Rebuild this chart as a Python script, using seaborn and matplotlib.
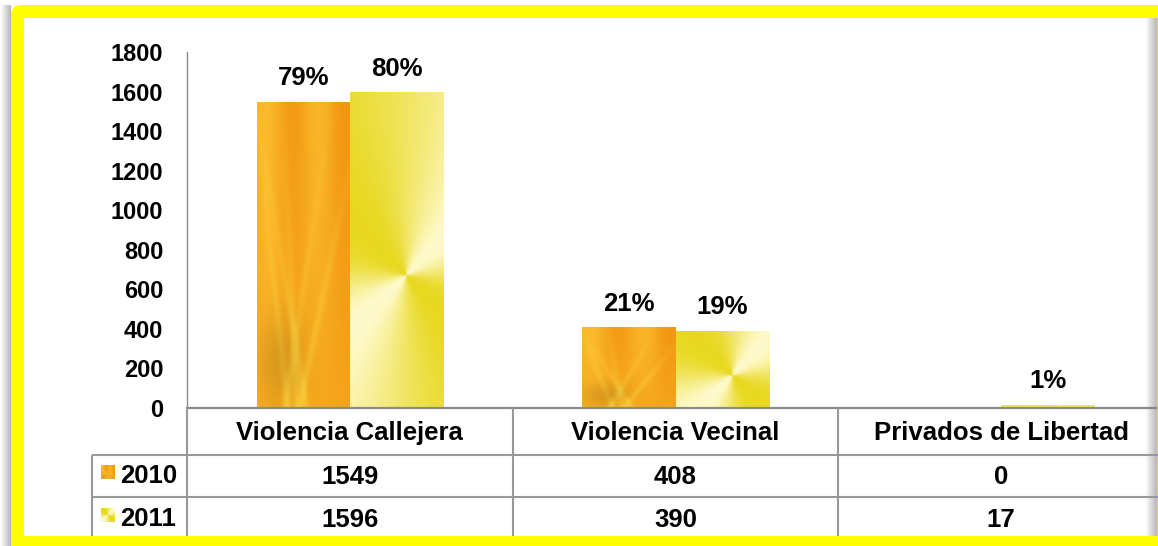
import matplotlib
matplotlib.use('Agg')
import matplotlib.pyplot as plt
import numpy as np
import pandas as pd
import seaborn as sns
from matplotlib.patches import Rectangle, FancyBboxPatch
from matplotlib.transforms import blended_transform_factory

categorias = ['Violencia Callejera', 'Violencia Vecinal', 'Privados de Libertad']
anios = ['2010', '2011']
valores_2010 = [1549, 408, 0]
valores_2011 = [1596, 390, 17]
pct_2010 = [79, 21, 0]
pct_2011 = [80, 19, 1]
y_ticks = [0, 200, 400, 600, 800, 1000, 1200, 1400, 1600, 1800]

W, H = 1158, 546


def textura_trigo(h, w):
    # orange "wheat" fill, roughly like the picture used in the original
    yy, xx = np.mgrid[0:1:h * 1j, 0:1:w * 1j]
    claro = np.array([1.0, 0.80, 0.22])
    oscuro = np.array([0.94, 0.56, 0.04])
    t = 0.35 + 0.25 * np.sin(xx * 11 + 0.6) * (1 - yy) + 0.15 * (1 - xx)
    for x0, inc in [(0.15, 0.35), (0.35, 0.15), (0.55, -0.5), (0.8, -0.7), (0.25, 0.55)]:
        t += 0.35 * np.exp(-((xx - x0 - inc * (yy - 0.5)) / 0.04) ** 2) * yy
    img = oscuro + (claro - oscuro) * np.clip(t, 0, 1)[..., None]
    mancha = np.exp(-(((xx - 0.25) / 0.25) ** 2 + ((yy - 0.85) / 0.15) ** 2))
    img = img * (1 - 0.12 * mancha[..., None])
    return np.clip(img, 0, 1)


def textura_conica(h, w, cx=0.6, cy=0.58):
    yy, xx = np.mgrid[0:1:h * 1j, 0:1:w * 1j]
    ang = np.arctan2(-(yy - cy) * h, (xx - cx) * w)
    t = ((np.cos(2 * (ang - np.pi / 4)) + 1) / 2) ** 1.4
    palido = np.array([1.0, 0.98, 0.80])
    amarillo = np.array([0.91, 0.85, 0.13])
    return amarillo + (palido - amarillo) * t[..., None]


df = pd.DataFrame({
    'categoria': categorias * 2,
    'anio': [anios[0]] * 3 + [anios[1]] * 3,
    'valor': valores_2010 + valores_2011,
})

sns.set_style('white')
plt.rcParams['font.family'] = ['Liberation Sans', 'DejaVu Sans']
plt.rcParams['font.weight'] = 'bold'
plt.rcParams['text.color'] = 'black'
plt.rcParams['ytick.color'] = 'black'

fig = plt.figure(figsize=(W / 100, H / 100), dpi=100)
fig.patch.set_facecolor('white')

# background frame (yellow rounded border)
bg = fig.add_axes([0, 0, 1, 1], zorder=0)
bg.set_xlim(0, W)
bg.set_ylim(H, 0)
bg.axis('off')
bg.add_patch(FancyBboxPatch((11, 5), 1300, 600, boxstyle='round,pad=0,rounding_size=10',
                            facecolor='#ffff00', edgecolor='none'))
bg.add_patch(Rectangle((24, 18), 1300, 518, facecolor='white', edgecolor='none'))
# soft shadows
sombra = np.zeros((1, 12, 4))
sombra[..., :3] = 0.45
sombra[..., 3] = np.linspace(0, 0.5, 12)
bg.imshow(sombra, extent=[0, 11, H, 5], aspect='auto')
bg.imshow(np.transpose(sombra[:, ::-1], (1, 0, 2)), extent=[24, W, 27, 18], aspect='auto')

ax_left = 187 / W
ax_w = 977 / W
ax_bottom = 1 - 408 / H
ax_h = 356 / H
ax = fig.add_axes([ax_left, ax_bottom, ax_w, ax_h], zorder=1)
ax.patch.set_alpha(0)

sns.barplot(data=df, x='categoria', y='valor', hue='anio', hue_order=anios,
            order=categorias, palette=['#f09a10', '#ece030'], width=0.572,
            linewidth=0, legend=False, ax=ax)

ax.set_xlim(-0.5, 2.5)
ax.set_ylim(0, 1800)
ax.set_yticks(y_ticks)
ax.set_xticks([])
ax.set_xlabel('')
ax.set_ylabel('')
ax.tick_params(axis='y', length=0, pad=17, labelsize=17, labelcolor='black')
for lab in ax.get_yticklabels():
    lab.set_fontweight('bold')
for s in ['top', 'right']:
    ax.spines[s].set_visible(False)
ax.spines['left'].set_color('#8a8a8a')
ax.spines['left'].set_linewidth(1.0)
ax.spines['bottom'].set_color('#8a8a8a')
ax.spines['bottom'].set_linewidth(1.6)

# texture fill of each bar, clipped to the bar
n = len(categorias)
for i, bar in enumerate(ax.patches):
    if bar.get_height() <= 0:
        continue
    x0, y0 = bar.get_x(), bar.get_y()
    x1, y1 = x0 + bar.get_width(), y0 + bar.get_height()
    (px0, py0), (px1, py1) = ax.transData.transform([(x0, y0), (x1, y1)])
    hp, wp = max(int(py1 - py0), 2), max(int(px1 - px0), 2)
    tex = textura_trigo(hp, wp) if i < n else textura_conica(hp, wp)
    im = ax.imshow(tex, extent=[x0, x1, y0, y1], aspect='auto', zorder=bar.get_zorder(),
                   interpolation='bilinear')
    im.set_clip_path(bar)
    bar.set_facecolor('none')
ax.set_xlim(-0.5, 2.5)
ax.set_ylim(0, 1800)

# percentage labels
for bar, p in zip(ax.patches, pct_2010 + pct_2011):
    if p == 0:
        continue
    ax.annotate(f'{p}%', (bar.get_x() + bar.get_width() / 2, bar.get_height()),
                xytext=(0, 12), textcoords='offset points', ha='center', va='baseline',
                fontsize=18.5, fontweight='bold', color='black')

# data table under the axis
fg = fig.add_axes([0, 0, 1, 1], zorder=2)
fg.set_xlim(0, W)
fg.set_ylim(H, 0)
fg.axis('off')
fg.patch.set_alpha(0)
tr = blended_transform_factory(ax.transData, fg.transData)
linea = dict(color='#999999', lw=1.5, solid_capstyle='butt')
for xc in [-0.5, 0.5, 1.5]:
    fg.plot([xc, xc], [408, 536], transform=tr, **linea)
for yl in [455, 497]:
    fg.plot([92, W], [yl, yl], **linea)
fg.plot([92, 92], [455, 536], **linea)

for i, c in enumerate(categorias):
    fg.text(i, 440, c, transform=tr, ha='center', va='baseline', fontsize=18.5,
            fontweight='bold', color='black')
for fila, (anio, vals, y_base) in enumerate(zip(anios, [valores_2010, valores_2011], [484, 527])):
    for i, v in enumerate(vals):
        fg.text(i, y_base, str(v), transform=tr, ha='center', va='baseline',
                fontsize=18.5, fontweight='bold', color='black')
    fg.text(120, y_base - 1, anio, ha='left', va='baseline', fontsize=18.5,
            fontweight='bold', color='black')
    tex = textura_trigo(28, 28) if fila == 0 else textura_conica(28, 28, 0.5, 0.5)
    top = 465 if fila == 0 else 508
    fg.imshow(tex, extent=[101, 115, top + 14, top], aspect='auto', interpolation='bilinear')

fg.add_patch(Rectangle((11, 536), W, 12, facecolor='#ffff00', edgecolor='none'))
sombra_d = np.zeros((1, 12, 4))
sombra_d[..., :3] = 0.5
sombra_d[..., 3] = np.linspace(0, 0.55, 12)
fg.imshow(sombra_d, extent=[1145, 1157, 536, 18], aspect='auto')
fg.add_patch(Rectangle((1157, 18), 2, 518, facecolor='#e8e800', edgecolor='none'))
fg.set_xlim(0, W)
fg.set_ylim(H, 0)

fig.savefig('out.png', dpi=100)
